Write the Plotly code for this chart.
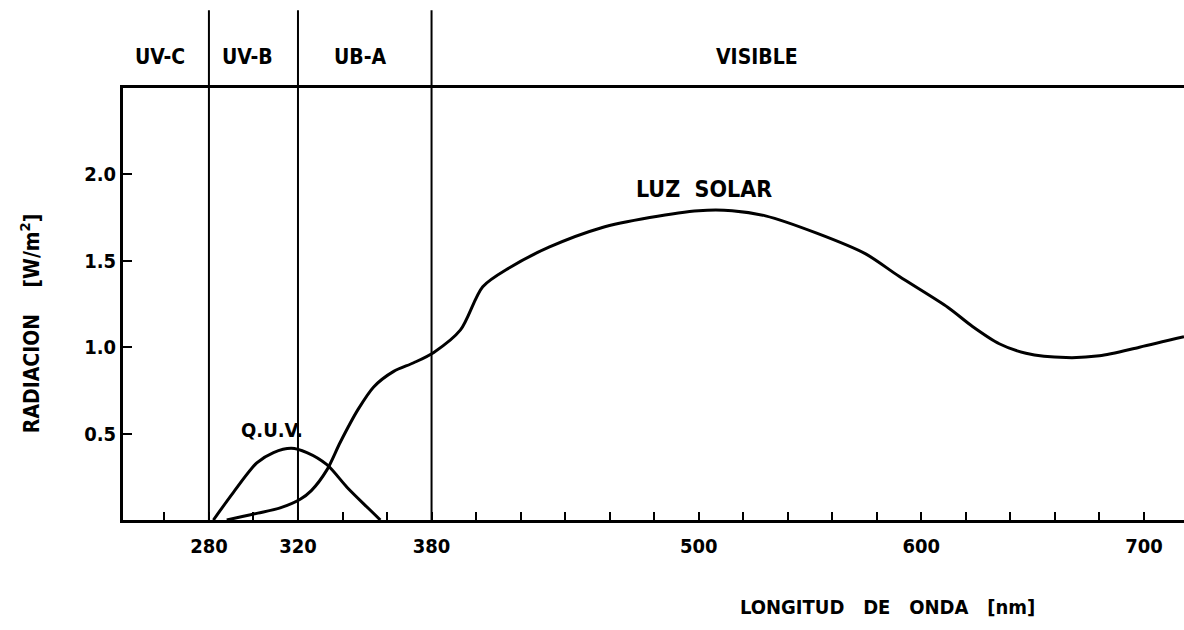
import plotly.graph_objects as go

# ---- data ----
solar_nm = [288, 295, 302, 312, 321, 326, 333, 339, 347, 354, 363, 372, 381, 393,
            403, 415, 433, 456, 478, 500, 515, 530, 553, 575, 590, 612, 623, 635,
            647, 665, 680, 698, 718]
solar_val = [0.0, 0.02, 0.04, 0.07, 0.12, 0.17, 0.29, 0.45, 0.64, 0.77, 0.86, 0.91,
             0.97, 1.10, 1.35, 1.46, 1.58, 1.69, 1.75, 1.79, 1.79, 1.76, 1.66, 1.54,
             1.41, 1.23, 1.12, 1.02, 0.965, 0.94, 0.95, 1.00, 1.06]

quv_nm = [282, 291, 301.5, 309, 317, 324, 333, 342, 351, 357]
quv_val = [0.0, 0.16, 0.33, 0.39, 0.415, 0.39, 0.32, 0.19, 0.075, 0.0]

band_edges = [280, 320, 380]
band_names = ["UV-C", "UV-B", "UB-A", "VISIBLE"]
band_label_nm = [258, 297.5, 348, 526]

x_tickvals = [280, 320, 380, 500, 600, 700]
x_ticktext = ["280", "320", "380", "500", "600", "700"]
y_tickvals = [0.5, 1.0, 1.5, 2.0]
y_ticktext = ["0.5", "1.0", "1.5", "2.0"]

FONT = "DejaVu Sans Condensed, Liberation Sans Narrow, DejaVu Sans, sans-serif"
NB = "\u00a0"


def f(size):
    return dict(size=size, color="black", family=FONT, weight="bold")


fig = go.Figure()
fig.add_trace(go.Scatter(x=solar_nm, y=solar_val, mode="lines",
                         line=dict(color="black", width=3, shape="spline", smoothing=0.8),
                         hoverinfo="skip", showlegend=False))
fig.add_trace(go.Scatter(x=quv_nm, y=quv_val, mode="lines",
                         line=dict(color="black", width=3, shape="spline", smoothing=0.8),
                         hoverinfo="skip", showlegend=False))

for e in band_edges:
    fig.add_shape(type="line", xref="x", yref="paper", x0=e, x1=e, y0=0, y1=1.18,
                  line=dict(color="black", width=2))

for name, xn in zip(band_names, band_label_nm):
    fig.add_annotation(x=xn, y=1.072, xref="x", yref="paper", text=name,
                       xanchor="center", yanchor="middle",
                       showarrow=False, font=f(21))

fig.add_annotation(x=308.3, y=0.52, xref="x", yref="y", text="Q.U.V.",
                   xanchor="center", yanchor="middle", showarrow=False, font=f(20))
fig.add_annotation(x=502.4, y=1.915, xref="x", yref="y", text="LUZ" + NB * 2 + "SOLAR",
                   xanchor="center", yanchor="middle", showarrow=False, font=f(23))

fig.add_annotation(x=-0.087, y=0.455, xref="paper", yref="paper",
                   text="RADIACION" + NB * 4 + "[W/m<sup>2</sup>]", textangle=-90,
                   xanchor="center", yanchor="middle",
                   showarrow=False, font=f(21))
fig.add_annotation(x=0.721, y=-0.201, xref="paper", yref="paper",
                   text="LONGITUD" + NB * 3 + "DE" + NB * 3 + "ONDA" + NB * 3 + "[nm]",
                   xanchor="center", yanchor="middle",
                   showarrow=False, font=f(20))

fig.update_layout(
    width=1184, height=630,
    margin=dict(l=123, r=0, t=88, b=110),
    paper_bgcolor="white", plot_bgcolor="white",
    font=f(20),
    xaxis=dict(range=[241.4, 718], showgrid=False, zeroline=False,
               showline=True, linecolor="black", linewidth=3, mirror=True,
               tickmode="array", tickvals=x_tickvals, ticktext=x_ticktext,
               tickfont=f(20),
               ticks="inside", ticklen=8, tickwidth=2, tickcolor="black",
               ticklabelstandoff=6,
               minor=dict(tick0=260, dtick=20, ticks="inside", ticklen=8,
                          tickwidth=2, tickcolor="black", showgrid=False)),
    yaxis=dict(range=[0, 2.5], showgrid=False, zeroline=False,
               showline=True, linecolor="black", linewidth=3, mirror=False,
               tickmode="array", tickvals=y_tickvals, ticktext=y_ticktext,
               tickfont=f(20),
               ticks="inside", ticklen=9, tickwidth=2, tickcolor="black"),
)

fig.write_html("out.html")
